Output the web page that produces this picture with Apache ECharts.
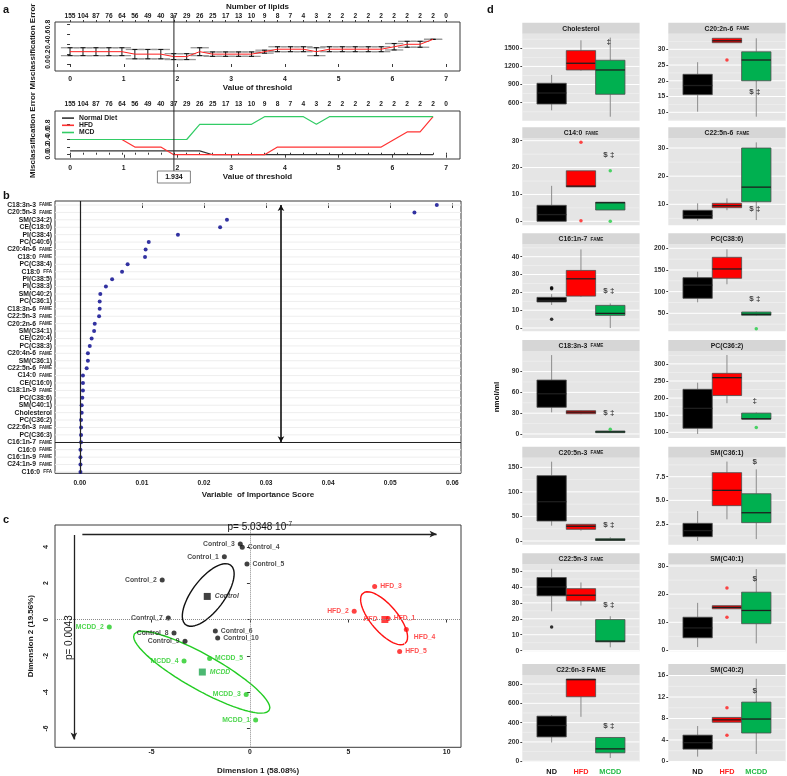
<!DOCTYPE html>
<html>
<head>
<meta charset="utf-8">
<script src="https://cdn.jsdelivr.net/npm/echarts@6.0.0/dist/echarts.min.js"></script>
<style>html,body{margin:0;padding:0;background:#ffffff;}#chart{width:787px;height:776px;}</style>
</head>
<body>
<div id="chart"></div>
<script>
// ===== Panel a : cross-validated misclassification error =====
const thresholds = [0,0.241,0.483,0.724,0.966,1.207,1.448,1.690,1.931,2.172,2.414,2.655,2.897,3.138,3.379,3.621,3.862,4.103,4.345,4.586,4.828,5.069,5.310,5.552,5.793,6.034,6.276,6.517,6.759,7.000];
const lipidCounts = [155,104,87,76,64,56,49,40,37,29,26,25,17,13,10,9,8,7,4,3,2,2,2,2,2,2,2,2,2,0];
const cvError   = [0.25,0.25,0.25,0.25,0.25,0.2,0.2,0.2,0.15,0.15,0.25,0.2,0.2,0.2,0.2,0.25,0.3,0.3,0.3,0.25,0.3,0.3,0.3,0.3,0.3,0.35,0.4,0.4,0.5];
const cvErrorSE = [0.08,0.08,0.08,0.08,0.08,0.095,0.095,0.095,0.06,0.06,0.08,0.045,0.045,0.045,0.045,0.03,0.05,0.05,0.05,0.08,0.05,0.05,0.05,0.05,0.05,0.065,0.06,0.06,0];
const errNormalDiet = [0.1,0.1,0.1,0.1,0.1,0.1,0.1,0.1,0.1,0.1,0.1,0,0,0,0,0,0,0,0,0,0,0,0,0,0,0,0,0,0];
const errHFD = [0.4,0.4,0.4,0.4,0.4,0.2,0.2,0.2,0,0,0,0,0,0,0,0,0.2,0.2,0.2,0.2,0.2,0.2,0.2,0.2,0.2,0.4,0.6,0.6,1.0];
const errMCD = [0.4,0.4,0.4,0.4,0.4,0.4,0.4,0.4,0.4,0.4,0.8,0.8,0.8,0.8,0.8,1,1,1,1,0.8,1,1,1,1,1,1,1,1,1];
const chosenThreshold = 1.934;
const thresholdTicks = [0,1,2,3,4,5,6,7];
const errorTicks = [0,0.2,0.4,0.6,0.8];
const errorTicksEven = [0,0.4,0.8];
const errorTicksOdd = [0.2,0.6];

// ===== Panel b : variable importance =====
const vipNames = ['C18:3n-3 FAME','C20:5n-3 FAME','SM(C34:2)','CE(C18:0)','PI(C38:4)','PC(C40:6)','C20:4n-6 FAME','C18:0 FAME','PC(C38:4)','C18:0 FFA','PI(C38:5)','PI(C38:3)','SM(C40:2)','PC(C36:1)','C18:3n-6 FAME','C22:5n-3 FAME','C20:2n-6 FAME','SM(C34:1)','CE(C20:4)','PC(C38:3)','C20:4n-6 FAME','SM(C36:1)','C22:5n-6 FAME','C14:0 FAME','CE(C16:0)','C18:1n-9 FAME','PC(C38:6)','SM(C40:1)','Cholesterol','PC(C36:2)','C22:6n-3 FAME','PC(C36:3)','C16:1n-7 FAME','C16:0 FAME','C16:1n-9 FAME','C24:1n-9 FAME','C16:0 FFA'];
const vipScores = [0.0575,0.0539,0.0237,0.0226,0.0158,0.0111,0.0106,0.0105,0.0077,0.0068,0.0052,0.0042,0.0033,0.0032,0.0032,0.0031,0.0024,0.0023,0.0019,0.0016,0.0013,0.0013,0.0011,0.0005,0.0005,0.0005,0.0004,0.0003,0.0003,0.0002,0.0002,0.0002,0.0002,0.0001,0.0001,0.0001,0.0001];
const vipTicks = [0,0.01,0.02,0.03,0.04,0.05,0.06];
const vipCutoffIndex = 32;
const vipArrow = [0.0324, 0, 32]; // x, from index, to index

// ===== Panel c : MDS plot =====
const controlNames = ['Control_1','Control_2','Control_3','Control_4','Control_5','Control_6','Control_7','Control_8','Control_9','Control_10'];
const controlX = [-1.30,-4.46,-0.49,-0.39,-0.15,-1.76,-4.15,-3.86,-3.30,-1.64];
const controlY = [3.45,2.17,4.15,3.97,3.06,-0.63,0.09,-0.74,-1.20,-1.01];
const hfdNames = ['HFD_1','HFD_2','HFD_3','HFD_4','HFD_5'];
const hfdX = [7.03,5.30,6.34,7.95,7.61];
const hfdY = [0.05,0.46,1.82,-0.55,-1.76];
const mcddNames = ['MCDD_1','MCDD_2','MCDD_3','MCDD_4','MCDD_5'];
const mcddX = [0.29,-7.15,-0.19,-3.35,-2.05];
const mcddY = [-5.53,-0.41,-4.12,-2.28,-2.15];
const centroidNames = ['Control','HFD','MCDD'];
const centroidX = [-2.17,6.86,-2.42];
const centroidY = [1.27,0.00,-2.89];
const controlEllipse = [-2.12,1.35,2.0,0.84,56];   // cx, cy, semi-major, semi-minor, angle
const hfdEllipse = [6.82,0.07,1.75,0.70,-52.9];
const mcddEllipse = [-2.45,-2.90,4.02,0.95,-31.5];
const dim1Ticks = [-5,0,5,10];
const dim2Ticks = [-6,-4,-2,0,2,4];
const dim1Arrow = [-8.52,9.49,4.7];   // x from, x to, y
const dim2Arrow = [-8.95,4.65,-6.6];  // x, y from, y to
const dim1PText = 'p= 5.0348 10', dim1PExp = '-7', dim1PAnchor = [0.5,4.7];
const dim2PText = 'p= 0.0043', dim2PAnchor = [-9.2,-1.0];

// ===== Panel d : box plots =====
const groups = ['ND','HFD','MCDD'];
const lipidPanels = ['Cholesterol','C14:0 FAME','C16:1n-7 FAME','C18:3n-3 FAME','C20:5n-3 FAME','C22:5n-3 FAME','C22:6n-3 FAME','C20:2n-6 FAME','C22:5n-6 FAME','PC(C38:6)','PC(C36:2)','SM(C36:1)','SM(C40:1)','SM(C40:2)'];
// [lower whisker, Q1, median, Q3, upper whisker]
const statsND = [[474,578,760,921,1059],[0,0,2.5,5.95,13.2],[12.9,14.6,15.5,17.2,19.0],[31.2,38.5,58,77.8,113.8],[31.2,40.7,80,133,161.4],[24.7,34.4,40,45.9,51.4],[194,252,370,467,478],[10.2,15.6,18.5,22.06,25.9],[4.1,4.9,6.0,7.87,10.35],[75.4,84.6,115,132.2,146],[95,111.7,170,225.7,245],[0.7,1.16,1.8,2.57,3.87],[1.2,4.5,8,11.8,16.9],[0.9,2.3,3.5,4.9,6.6]];
const statsHFD = [[1130,1141,1252,1461,1632],[12.8,12.8,13.1,18.8,18.8],[17.5,17.9,27.6,32.3,44.1],[28.5,29.2,31.5,33.6,34],[21,23.8,30,34,34],[28.3,31.2,34.8,38.9,42.8],[460,668,845,852,852],[32.1,32.1,32.7,33.5,33.6],[7.9,8.8,9.5,10.35,12.1],[117,130.8,152.3,179.2,197.7],[185,207.6,259.7,272.5,326],[2.99,4.44,6.06,7.93,9.1],[14.8,14.8,15.3,15.9,15.9],[7.3,7.3,7.75,8.2,8.2]];
const statsMCDD = [[368,739,1141,1302,1676],[4.2,4.2,6.9,7.1,7.1],[0,7.1,8.2,12.7,13.8],[1.9,1.9,3,4.3,4.5],[0.5,1.0,2.5,4.8,7.5],[2.1,5.5,6.0,19.5,21.6],[34,87,128,246,250],[8.6,20.0,26.6,29.2,33.5],[4.4,10.9,16.1,30.0,32.0],[44.5,45.5,47.7,53,54],[138,138.6,139.5,156.1,158],[0.9,2.64,3.69,5.7,8.28],[2.5,9.5,14.2,20.7,28.9],[1.4,5.3,7.9,11.05,15.4]];
// [panel, group, value]
const outlierPoints = [[1,1,29.4],[1,1,0.2],[1,2,18.8],[1,2,0],[2,0,22.6],[2,0,22.0],[2,0,4.9],[3,2,6.8],[5,0,14.9],[7,1,26.6],[9,2,14.5],[10,2,113.7],[12,1,22.2],[12,1,11.8],[13,1,10.0],[13,1,4.9]];
const signifMarks = ['\u2021','$ \u2021','$ \u2021','$ \u2021','$ \u2021','$ \u2021','$ \u2021','$ \u2021','$ \u2021','$ \u2021','\u2021','$','$','$'];
const signifY = [1610,24.6,21.1,31.1,32.6,28.5,371,16.5,8.5,84.6,193,9.1,25.4,13.2];
const yTicks = [[600,900,1200,1500],[0,10,20,30],[0,10,20,30,40],[0,30,60,90],[0,50,100,150],[0,10,20,30,40,50],[0,200,400,600,800],[10,15,20,25,30],[10,20,30],[50,100,150,200],[100,150,200,250,300],[2.5,5.0,7.5],[0,10,20,30],[0,4,8,12,16]];
const yRanges = [[302,1741],[-1.49,30.9],[-1.85,46.96],[-5.8,119.7],[-7.5,169.5],[-0.4,54.2],[-8,893.5],[7.33,34.95],[2.54,33.45],[8.5,209.2],[83.3,337.7],[0.31,9.51],[-0.3,30.6],[-0.1,16.1]];

// ===== styling =====
const F = "'Liberation Sans', Arial, Helvetica, sans-serif";
function T(size, color, weight, extra){ return Object.assign({fontFamily:F, fontSize:size, fontWeight:weight||'bold', color:color||'#1a1a1a'}, extra||{}); }
function nearestIdx(arr, v){ let b=0, d=1e9; arr.forEach((a,i)=>{ const e=Math.abs(a-v); if(e<d){d=e;b=i;} }); return b; }
const RED='#ff2020', GREEN_LINE='#33cc66', PT_GREEN='#22cc22';
const boxFill = ['#000000','#ff0000','#00b050'];
const groupOutlier = ['#000000','#ff1a1a','#22cc44'];

const grid=[], xAxis=[], yAxis=[], series=[];
function frameGrid(o){ return Object.assign({show:true, borderWidth:1, borderColor:'#3a3a3a', backgroundColor:'rgba(0,0,0,0)', containLabel:false, outerBoundsMode:'none'}, o); }
function vAxis(o){
  return {gridIndex:o.grid, type:'value', min:o.min, max:o.max, position:o.position, inverse:!!o.inverse,
    axisLine:{show:false}, splitLine:{show:false},
    axisTick:{show:(o.tickLen||0)>0, length:o.tickLen||1, customValues:o.tickValues||o.ticks, lineStyle:{color:o.tickColor||'#3a3a3a', width:1}},
    axisLabel:Object.assign({show:o.showLabels!==false, customValues:o.ticks, margin:o.margin||4, rotate:o.rotate||0,
      showMinLabel:true, showMaxLabel:true, hideOverlap:false,
      formatter:o.fmt||(v=>String(v))}, o.labelStyle||T(7)),
    name:o.name||'', nameLocation:'middle', nameGap:o.nameGap||0, nameTextStyle:o.nameStyle||T(8)};
}

// ---------- panel a (top) ----------
grid.push(frameGrid({left:55, top:22, width:405, height:49}));
xAxis.push(vAxis({grid:0, min:-0.28, max:7.26, position:'bottom', ticks:thresholdTicks, tickLen:3, margin:5, labelStyle:T(6.8), name:'Value of threshold', nameGap:11}));
xAxis.push(vAxis({grid:0, min:-0.28, max:7.26, position:'top', ticks:thresholds, tickLen:2, margin:2.5, labelStyle:T(6.6), fmt:v=>String(lipidCounts[nearestIdx(thresholds,v)]), name:'Number of lipids', nameGap:11}));
yAxis.push(vAxis({grid:0, min:-0.142, max:0.852, position:'left', ticks:errorTicks, tickLen:3, margin:3, rotate:90, labelStyle:T(6.8), fmt:v=>v.toFixed(1), name:'Misclassification Error', nameGap:18}));

function errRender(params, api){
  const x=api.value(0), e=api.value(1), s=api.value(2);
  const top=api.coord([x,e+s]), bot=api.coord([x,e-s]);
  const hw=api.size([0.17,0])[0], sw=2.5;
  return {type:'group', children:[
    {type:'line', shape:{x1:top[0]-hw,y1:top[1],x2:top[0]+hw,y2:top[1]}, style:{stroke:'#9a9a9a', lineWidth:1.3}},
    {type:'line', shape:{x1:bot[0]-hw,y1:bot[1],x2:bot[0]+hw,y2:bot[1]}, style:{stroke:'#9a9a9a', lineWidth:1.3}},
    {type:'line', shape:{x1:top[0],y1:top[1],x2:bot[0],y2:bot[1]}, style:{stroke:'#111', lineWidth:1}},
    {type:'line', shape:{x1:top[0]-sw,y1:top[1],x2:top[0]+sw,y2:top[1]}, style:{stroke:'#111', lineWidth:1}},
    {type:'line', shape:{x1:bot[0]-sw,y1:bot[1],x2:bot[0]+sw,y2:bot[1]}, style:{stroke:'#111', lineWidth:1}}
  ]};
}
series.push({type:'custom', name:'cv-se', xAxisIndex:0, yAxisIndex:0, data:cvError.map((e,i)=>[thresholds[i],e,cvErrorSE[i]]), encode:{x:0,y:1}, renderItem:errRender, silent:true, z:2});
series.push({type:'line', name:'cv-error', xAxisIndex:0, yAxisIndex:0, data:cvError.map((e,i)=>[thresholds[i],e]), showSymbol:false, lineStyle:{color:RED, width:1}, silent:true, z:3});

// ---------- panel a (bottom) ----------
grid.push(frameGrid({left:55, top:111, width:405, height:48}));
xAxis.push(vAxis({grid:1, min:-0.28, max:7.26, position:'bottom', ticks:thresholdTicks, tickLen:3, margin:5.5, labelStyle:T(6.8), name:'Value of threshold', nameGap:13}));
xAxis.push(vAxis({grid:1, min:-0.28, max:7.26, position:'top', ticks:thresholds, tickLen:2, margin:3, labelStyle:T(6.6), fmt:v=>String(lipidCounts[nearestIdx(thresholds,v)])}));
yAxis.push(vAxis({grid:1, min:-0.113, max:1.15, position:'left', ticks:errorTicksEven, tickValues:errorTicks, tickLen:3, margin:3, rotate:90, labelStyle:T(6.8), fmt:v=>v.toFixed(1), name:'Misclassification Error', nameGap:18}));
[['Normal Diet',errNormalDiet,'#333333'],['HFD',errHFD,'#ff3333'],['MCD',errMCD,GREEN_LINE]].forEach(([n,arr,c])=>{
  series.push({type:'line', name:n, color:c, xAxisIndex:2, yAxisIndex:1, data:arr.map((e,i)=>[thresholds[i],e]), showSymbol:false, symbol:'none', lineStyle:{color:c, width:1.2}, silent:true, z:3});
});

// ---------- panel b ----------
grid.push(frameGrid({left:55, top:201, width:406, height:272.3}));
xAxis.push(vAxis({grid:2, min:-0.004, max:0.0614, position:'bottom', ticks:vipTicks, tickLen:3, margin:6, labelStyle:T(6.6), fmt:v=>v.toFixed(2), name:'Variable  of Importance Score', nameGap:17}));
xAxis.push(vAxis({grid:2, min:-0.004, max:0.0614, position:'top', ticks:vipTicks, tickLen:2, showLabels:false, tickColor:'#888'}));
const vipIdx = vipNames.map((n,i)=>i);
const vipLabelStyle = {rich:{m:T(6.8,'#1a1a1a','bold'), s:T(4.6,'#1a1a1a','bold')}};
const vipFmt = v=>{ const n=vipNames[Math.round(v)]; if(!n) return ''; const m=n.match(/^(.*) (FAME|FFA)$/); return m?('{m|'+m[1]+'} {s|'+m[2]+'}'):('{m|'+n+'}'); };
yAxis.push(vAxis({grid:2, min:-0.54, max:36.18, position:'left', inverse:true, ticks:vipIdx.filter(i=>i%2===0), tickLen:0, margin:3, labelStyle:vipLabelStyle, fmt:vipFmt}));
function hLineRender(params, api){
  const cs=params.coordSys; const y=api.coord([api.value(0),api.value(1)])[1]; const major=api.value(2)===1;
  return {type:'line', shape:{x1:cs.x, y1:y, x2:cs.x+cs.width, y2:y}, style:{stroke:api.value(3)===1?'#eeeeee':(major?'#ffffff':'#f3f3f3'), lineWidth:major?1:0.6}};
}
series.push({type:'custom', xAxisIndex:4, yAxisIndex:2, data:vipIdx.map(i=>[0.03,i,1,1]), encode:{x:0,y:1}, renderItem:hLineRender, silent:true, z:1});
series.push({type:'scatter', name:'vip', xAxisIndex:4, yAxisIndex:2, data:vipScores.map((v,i)=>[v,i]), symbolSize:4, itemStyle:{color:'#00008b'}, silent:true, z:4,
  markLine:{silent:true, animation:false, symbol:['none','none'], label:{show:false}, lineStyle:{color:'#222', width:1.2, type:'solid'},
    data:[{xAxis:0}, {yAxis:vipCutoffIndex},
      [{coord:[vipArrow[0],vipArrow[1]], symbol:'arrow', symbolSize:[5,6], lineStyle:{color:'#111', width:1.6, type:'solid'}}, {coord:[vipArrow[0],vipArrow[2]], symbol:'arrow', symbolSize:[5,6]}]]}});

// ---------- panel c ----------
grid.push(frameGrid({left:55, top:525, width:406, height:222.3}));
xAxis.push(vAxis({grid:3, min:-9.91, max:10.73, position:'bottom', ticks:dim1Ticks, tickLen:3, margin:1.5, labelStyle:T(6.8), name:'Dimension 1 (58.08%)', nameGap:19}));
yAxis.push(vAxis({grid:3, min:-7.03, max:5.2, position:'left', ticks:dim2Ticks, tickLen:3, margin:5, rotate:90, labelStyle:T(6.8), name:'Dimension 2 (19.56%)', nameGap:17}));
const controlLabelSide = ['left','left','left','right','right','right','left','left','left','right'];
const hfdLabelSide = ['right','left','right','right','right'];
const hfdLabelOffset = [[0,0],[0,0],[0,0],[2,8],[0,0]];
const mcddLabelSide = ['left','left','left','left','right'];
const centroidSide = ['right','left','right'];
function ptData(names, xs, ys, sides, offs){ return names.map((n,i)=>({name:n, value:[xs[i],ys[i]], label:{position:sides[i], offset:(offs&&offs[i])||[0,0]}})); }
function ellipsePts(e){ const cx=e[0],cy=e[1],a=e[2],b=e[3],t=e[4]*Math.PI/180, pts=[]; for(let k=0;k<=120;k++){ const s=2*Math.PI*k/120, u=a*Math.cos(s), v=b*Math.sin(s); pts.push([cx+u*Math.cos(t)-v*Math.sin(t), cy+u*Math.sin(t)+v*Math.cos(t)]); } return pts; }
series.push({type:'scatter', name:'ctrl-pts', xAxisIndex:6, yAxisIndex:3, data:ptData(controlNames,controlX,controlY,controlLabelSide), symbolSize:5, itemStyle:{color:'#111'}, silent:true, z:4,
  label:{show:true, formatter:'{b}', distance:3, ...T(6.8,'#1a1a1a')},
  markLine:{silent:true, animation:false, symbol:['none','none'], label:{show:false}, lineStyle:{color:'#222', width:1.3, type:'solid'},
    data:[{xAxis:0, lineStyle:{type:'dotted', color:'#8a8a8a', width:1}}, {yAxis:0, lineStyle:{type:'dotted', color:'#8a8a8a', width:1}},
      [{coord:[dim1Arrow[0],dim1Arrow[2]], symbol:'none'}, {coord:[dim1Arrow[1],dim1Arrow[2]], symbol:'arrow', symbolSize:[5,7]}],
      [{coord:[dim2Arrow[0],dim2Arrow[1]], symbol:'none'}, {coord:[dim2Arrow[0],dim2Arrow[2]], symbol:'arrow', symbolSize:[5,7]}]]}});
series.push({type:'scatter', name:'hfd-pts', xAxisIndex:6, yAxisIndex:3, data:ptData(hfdNames,hfdX,hfdY,hfdLabelSide,hfdLabelOffset), symbolSize:5, itemStyle:{color:'#ff1111'}, silent:true, z:4,
  label:{show:true, formatter:'{b}', distance:3, ...T(6.8,'#ff2222')}});
series.push({type:'scatter', name:'mcdd-pts', xAxisIndex:6, yAxisIndex:3, data:ptData(mcddNames,mcddX,mcddY,mcddLabelSide), symbolSize:5, itemStyle:{color:PT_GREEN}, silent:true, z:4,
  label:{show:true, formatter:'{b}', distance:3, ...T(6.8,PT_GREEN)}});
const centroidColors = ['#111111','#ff1111','#1fa64f'];
const centroidLabelColors = ['#1a1a1a','#ff2222','#22cc22'];
series.push({type:'scatter', name:'centroids', xAxisIndex:6, yAxisIndex:3, symbol:'rect', symbolSize:7, silent:true, z:4,
  data:centroidNames.map((n,i)=>({name:n, value:[centroidX[i],centroidY[i]], itemStyle:{color:centroidColors[i]}, label:{position:centroidSide[i], color:centroidLabelColors[i]}})),
  label:{show:true, formatter:'{b}', distance:4, ...T(6.8,'#1a1a1a','bold',{fontStyle:'italic'})}});
[[controlEllipse,'#111111'],[hfdEllipse,'#ff1111'],[mcddEllipse,PT_GREEN]].forEach(([e,c])=>{
  series.push({type:'line', name:'ell', xAxisIndex:6, yAxisIndex:3, data:ellipsePts(e), showSymbol:false, symbol:'none', lineStyle:{color:c, width:1.4}, silent:true, z:3});
});

// ---------- panel d ----------
const dRowTops=[22.7,127.3,233.3,340,446.7,553.3,664], dColLefts=[522.3,668.3], dW=117.3, stripH=11, dH=87;
function boxRender(params, api){
  const x=api.value(0), lo=api.value(1), q1=api.value(2), med=api.value(3), q3=api.value(4), hi=api.value(5), g=api.value(6);
  const c=api.coord([x,med]);
  const yLo=api.coord([x,lo])[1], yQ1=api.coord([x,q1])[1], yQ3=api.coord([x,q3])[1], yHi=api.coord([x,hi])[1];
  const hw=api.size([1,0])[0]/2;
  return {type:'group', children:[
    {type:'line', shape:{x1:c[0],y1:yHi,x2:c[0],y2:yQ3}, style:{stroke:'#8c8c8c', lineWidth:1}},
    {type:'line', shape:{x1:c[0],y1:yQ1,x2:c[0],y2:yLo}, style:{stroke:'#8c8c8c', lineWidth:1}},
    {type:'rect', shape:{x:c[0]-hw, y:yQ3, width:hw*2, height:Math.max(yQ1-yQ3,1)}, style:{fill:boxFill[g], stroke:'#4d4d4d', lineWidth:0.8}},
    {type:'line', shape:{x1:c[0]-hw,y1:c[1],x2:c[0]+hw,y2:c[1]}, style:{stroke:'#1e1e1e', lineWidth:1.3}}
  ]};
}
const stripInfo = [];
lipidPanels.forEach((name,p)=>{
  const col = p<7?0:1, row = p%7;
  const gi = grid.length, xi = xAxis.length, yi = yAxis.length;
  const top = dRowTops[row]+stripH;
  grid.push({show:true, left:dColLefts[col], top:top, width:dW, height:dH, backgroundColor:'#e5e5e5', borderWidth:0, containLabel:false, outerBoundsMode:'none'});
  stripInfo.push({name, x:dColLefts[col], y:dRowTops[row]});
  xAxis.push(vAxis({grid:gi, min:0, max:4, position:'bottom', ticks:[1,2,3], tickLen:0, margin:6, showLabels:row===6,
    labelStyle:{rich:{g0:T(7.3,'#111111'), g1:T(7.3,'#ff2020'), g2:T(7.3,'#22bb44')}},
    fmt:v=>{ const k=Math.round(v)-1; return '{g'+k+'|'+groups[k]+'}'; }}));
  const dec = yTicks[p].some(v=>v%1!==0)?1:0;
  yAxis.push(vAxis({grid:gi, min:yRanges[p][0], max:yRanges[p][1], position:'left', ticks:yTicks[p], tickLen:2, tickColor:'#444', margin:3, labelStyle:T(6.8,'#333333'), fmt:v=>v.toFixed(dec)}));
  const tk=yTicks[p], step=tk[1]-tk[0];
  const lines = tk.map(v=>[2,v,1,0]);
  for(let k=0;k<tk.length+2;k++){ const v=tk[0]-step/2+k*step; if(v>yRanges[p][0] && v<yRanges[p][1]) lines.push([2,v,0,0]); }
  series.push({type:'custom', xAxisIndex:xi, yAxisIndex:yi, data:lines, encode:{x:0,y:1}, renderItem:hLineRender, silent:true, z:1});
  series.push({type:'custom', xAxisIndex:xi, yAxisIndex:yi, encode:{x:0,y:[1,5]}, renderItem:boxRender, silent:true, z:2,
    data:[[1].concat(statsND[p],[0]),[2].concat(statsHFD[p],[1]),[3].concat(statsMCDD[p],[2])]});
  const outs = outlierPoints.filter(o=>o[0]===p).map(o=>({value:[o[1]+1,o[2]], itemStyle:{color:groupOutlier[o[1]]}}));
  if(outs.length) series.push({type:'scatter', xAxisIndex:xi, yAxisIndex:yi, data:outs, symbolSize:3.5, silent:true, z:3});
  series.push({type:'scatter', xAxisIndex:xi, yAxisIndex:yi, data:[[2.95,signifY[p],signifMarks[p]]], symbolSize:0.1, itemStyle:{color:'rgba(0,0,0,0)'}, silent:true, z:4,
    label:{show:true, position:'inside', formatter:q=>q.data[2], ...T(8,'#111111')}});
});
// second label layers for crowded tick labels (kept on the same left side of their grids)
yAxis.push(vAxis({grid:1, min:-0.113, max:1.15, position:'left', ticks:errorTicksOdd, tickLen:0, margin:3, rotate:90, labelStyle:T(6.8), fmt:v=>v.toFixed(1)}));
yAxis.push(vAxis({grid:2, min:-0.54, max:36.18, position:'left', inverse:true, ticks:vipIdx.filter(i=>i%2===1), tickLen:0, margin:3, labelStyle:vipLabelStyle, fmt:vipFmt}));

const option = {
  animation:false,
  backgroundColor:'#ffffff',
  grid, xAxis, yAxis, series,
  legend:{data:['Normal Diet','HFD','MCD'], left:62, top:114.5, orient:'vertical', itemGap:0, itemWidth:12, itemHeight:1.6, icon:'rect', padding:0, selectedMode:false,
    textStyle:Object.assign(T(6.8), {lineHeight:7.2})}
};
const chart = echarts.init(document.getElementById('chart'), null, {renderer:'canvas', width:787, height:776});
chart.setOption(option);

// ---------- graphic overlays positioned via the chart scales ----------
const g = [];
[['a',3,10],['b',3,196],['c',3,520],['d',487,10]].forEach(([t,x,y])=>g.push({type:'text', left:x, top:y-6, style:{text:t, font:'bold 11px '+F, fill:'#111'}}));
const thrX = chart.convertToPixel({xAxisIndex:0}, chosenThreshold);
g.push({type:'line', shape:{x1:thrX, y1:15, x2:thrX, y2:171}, style:{stroke:'#222', lineWidth:1}, z:50});
g.push({type:'rect', shape:{x:thrX-16.5, y:171, width:33, height:12}, style:{fill:'#fff', stroke:'#666', lineWidth:0.8}, z:50});
g.push({type:'text', x:thrX, y:177, style:{text:String(chosenThreshold), align:'center', verticalAlign:'middle', font:'bold 7px '+F, fill:'#111'}, z:51});
const p1 = chart.convertToPixel({gridIndex:3}, dim1PAnchor);
g.push({type:'text', x:p1[0], y:p1[1]-1, style:{text:'{a|'+dim1PText+'}{s|'+dim1PExp+'}', align:'center', verticalAlign:'bottom',
  rich:{a:{font:'10px '+F, fill:'#111', lineHeight:12}, s:{font:'6.5px '+F, fill:'#111', verticalAlign:'top', lineHeight:12, padding:[0,0,5,0]}}}, z:50});
const p2 = chart.convertToPixel({gridIndex:3}, dim2PAnchor);
g.push({type:'text', x:p2[0], y:p2[1], rotation:Math.PI/2, style:{text:dim2PText, align:'center', verticalAlign:'middle', font:'10px '+F, fill:'#111'}, z:50});
stripInfo.forEach(s=>{
  g.push({type:'rect', shape:{x:s.x, y:s.y, width:dW, height:stripH}, style:{fill:'#d6d6d6'}, z:5});
  const m = s.name.match(/^(.*) (FAME)$/);
  const txt = (m && s.name!=='C22:6n-3 FAME') ? ('{m|'+m[1]+'} {s|'+m[2]+'}') : ('{m|'+s.name+'}');
  g.push({type:'text', x:s.x+dW/2, y:s.y+stripH/2+0.5, z:6, style:{text:txt, align:'center', verticalAlign:'middle',
    rich:{m:{font:'bold 6.8px '+F, fill:'#1a1a1a'}, s:{font:'bold 4.6px '+F, fill:'#1a1a1a'}}}});
});
g.push({type:'text', x:497, y:397, rotation:Math.PI/2, style:{text:'nmol/ml', align:'center', verticalAlign:'middle', font:'bold 8px '+F, fill:'#111'}, z:6});
chart.setOption({graphic:g});
</script>
</body>
</html>
